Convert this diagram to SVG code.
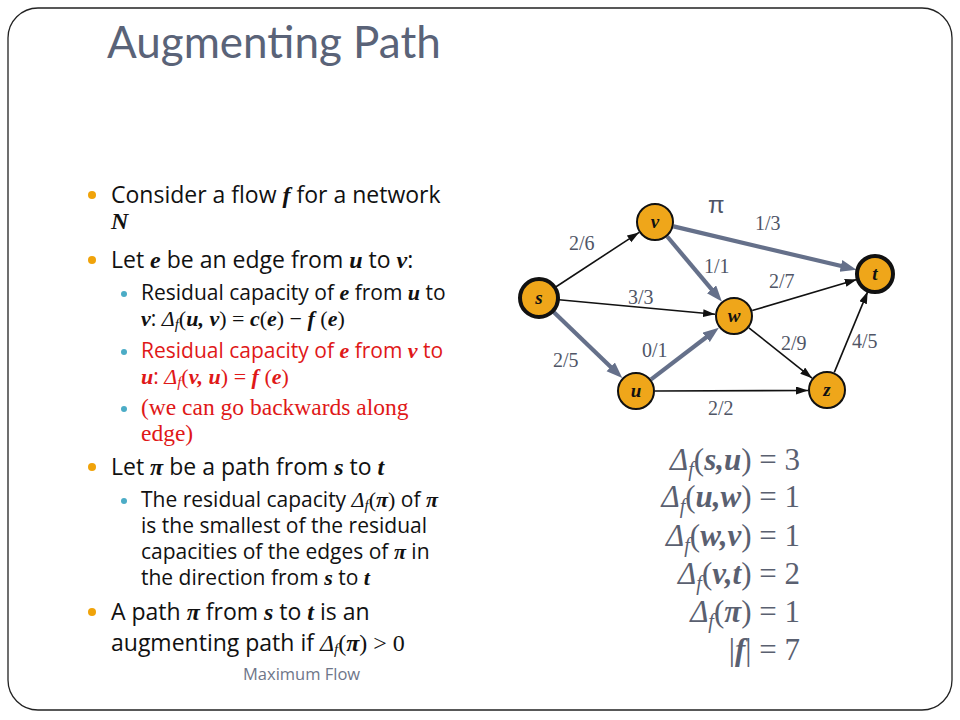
<svg xmlns="http://www.w3.org/2000/svg" width="960" height="720" viewBox="0 0 960 720">
<defs>
<style>
.frame{fill:#fff;stroke:#222;stroke-width:1.3}
.title{font-family:"Lato","Open Sans",sans-serif;font-size:44px;fill:#5A6378}
.b1{font-family:"Open Sans","Lato",sans-serif;font-size:23px;fill:#111}
.b2{font-family:"Open Sans","Lato",sans-serif;font-size:21px;fill:#111}
.b1 .m,.b1 .mi,.b1 .mr{font-size:24px}
.b2 .m,.b2 .mi,.b2 .mr{font-size:22px}
.red{fill:#E01818}
.tr{font-family:"Liberation Serif",serif;font-size:23.5px;fill:#E01818}
.m{font-family:"Liberation Serif",serif;font-weight:bold;font-style:italic}
.mi{font-family:"Liberation Serif",serif;font-style:italic}
.mr{font-family:"Liberation Serif",serif}
.mi .sub{font-size:15px}
.foot{font-family:"Open Sans","Lato",sans-serif;font-size:16.5px;fill:#6E7689}
.dot1{fill:#F0A30A}
.dot2{fill:#4BACC6}
.node circle{fill:#EFA61A;stroke:#111;stroke-width:2}
.node.big circle{stroke-width:4}
.node text{font-family:"Liberation Serif",serif;font-weight:bold;font-style:italic;font-size:19px;fill:#111;text-anchor:middle}
.thin{stroke:#111;stroke-width:1.6;fill:none;marker-end:url(#ab)}
.thick{stroke:#65708A;stroke-width:4.2;fill:none;marker-end:url(#ag)}
.lbl{font-family:"Liberation Serif",serif;font-size:20px;fill:#4F5566}
.pi{font-family:"Liberation Sans",sans-serif;font-size:24px;fill:#4F5566}
.eq{font-family:"Liberation Serif",serif;font-size:31px;fill:#5A6070;text-anchor:end}
</style>
<marker id="ab" markerUnits="userSpaceOnUse" markerWidth="14" markerHeight="10" refX="12" refY="4" orient="auto"><path d="M0,0 L12,4 L0,8 z" fill="#111"/></marker>
<marker id="ag" markerUnits="userSpaceOnUse" markerWidth="18" markerHeight="14" refX="8" refY="6" orient="auto"><path d="M0,0 L16,6 L0,12 z" fill="#65708A"/></marker>
</defs>
<rect x="0" y="0" width="960" height="720" fill="#fff"/>
<rect class="frame" x="8" y="8" width="944" height="702" rx="30" ry="30"/>
<text class="title" x="107" y="58">Augmenting Path</text>

<g id="bullets">
<circle class="dot1" cx="92" cy="195" r="4"/>
<text class="b1" x="111" y="203">Consider a flow <tspan class="m">f</tspan> for a network</text>
<text class="b1" x="111" y="229"><tspan class="m">N</tspan></text>
<circle class="dot1" cx="92" cy="260" r="4"/>
<text class="b1" x="111" y="268">Let <tspan class="m">e</tspan> be an edge from <tspan class="m">u</tspan> to <tspan class="m">v</tspan>:</text>
<circle class="dot2" cx="124" cy="294" r="3"/>
<text class="b2" x="141" y="300">Residual capacity of <tspan class="m">e</tspan> from <tspan class="m">u</tspan> to</text>
<text class="b2" x="141" y="326"><tspan class="m">v</tspan>: <tspan class="mi">Δ<tspan class="sub" dy="3">f</tspan></tspan><tspan class="mr" dy="-3">(</tspan><tspan class="m">u, v</tspan><tspan class="mr">) = </tspan><tspan class="m">c</tspan><tspan class="mr">(</tspan><tspan class="m">e</tspan><tspan class="mr">) − </tspan><tspan class="m">f</tspan><tspan class="mr"> (</tspan><tspan class="m">e</tspan><tspan class="mr">)</tspan></text>
<circle class="dot2" cx="124" cy="352" r="3"/>
<text class="b2 red" x="141" y="358">Residual capacity of <tspan class="m">e</tspan> from <tspan class="m">v</tspan> to</text>
<text class="b2 red" x="141" y="384"><tspan class="m">u</tspan>: <tspan class="mi">Δ<tspan class="sub" dy="3">f</tspan></tspan><tspan class="mr" dy="-3">(</tspan><tspan class="m">v, u</tspan><tspan class="mr">) = </tspan><tspan class="m">f</tspan><tspan class="mr"> (</tspan><tspan class="m">e</tspan><tspan class="mr">)</tspan></text>
<circle class="dot2" cx="124" cy="409" r="3"/>
<text class="tr" x="141" y="415">(we can go backwards along</text>
<text class="tr" x="141" y="441">edge)</text>
<circle class="dot1" cx="92" cy="467" r="4"/>
<text class="b1" x="111" y="475">Let <tspan class="m">π</tspan> be a path from <tspan class="m">s</tspan> to <tspan class="m">t</tspan></text>
<circle class="dot2" cx="124" cy="501" r="3"/>
<text class="b2" x="141" y="507">The residual capacity <tspan class="mi">Δ<tspan class="sub" dy="3">f</tspan></tspan><tspan class="mr" dy="-3">(</tspan><tspan class="m">π</tspan><tspan class="mr">)</tspan> of <tspan class="m">π</tspan></text>
<text class="b2" x="141" y="533">is the smallest of the residual</text>
<text class="b2" x="141" y="559">capacities of the edges of <tspan class="m">π</tspan> in</text>
<text class="b2" x="141" y="585">the direction from <tspan class="m">s</tspan> to <tspan class="m">t</tspan></text>
<circle class="dot1" cx="92" cy="612" r="4"/>
<text class="b1" x="111" y="620">A path <tspan class="m">π</tspan> from <tspan class="m">s</tspan> to <tspan class="m">t</tspan> is an</text>
<text class="b1" x="111" y="651">augmenting path if <tspan class="mi">Δ<tspan class="sub" dy="3">f</tspan></tspan><tspan class="mr" dy="-3">(</tspan><tspan class="m">π</tspan><tspan class="mr">) &gt; 0</tspan></text>
<text class="foot" x="243" y="680">Maximum Flow</text>
</g>

<g id="connectors">
<line class="thin" x1="555.7" y1="287" x2="639.1" y2="232.4"/>
<line class="thin" x1="558.9" y1="299.8" x2="715.1" y2="314.3"/>
<line class="thick" x1="553.4" y1="311.8" x2="616.5" y2="372.4"/>
<line class="thick" x1="673.5" y1="226.4" x2="848.7" y2="267.8"/>
<line class="thick" x1="667.2" y1="236.5" x2="716.7" y2="295.4"/>
<line class="thick" x1="651.1" y1="379.4" x2="712.5" y2="332.5"/>
<line class="thin" x1="655" y1="391" x2="808" y2="390.5"/>
<line class="thin" x1="752.2" y1="310.6" x2="856.8" y2="279.4"/>
<line class="thin" x1="748.9" y1="327.8" x2="812.1" y2="378.2"/>
<line class="thin" x1="834.3" y1="372.4" x2="867.7" y2="291.6"/>
<text class="pi" x="708" y="213">π</text>
<text class="lbl" x="755" y="230">1/3</text>
<text class="lbl" x="569" y="250">2/6</text>
<text class="lbl" x="704" y="273">1/1</text>
<text class="lbl" x="769" y="288">2/7</text>
<text class="lbl" x="628" y="304">3/3</text>
<text class="lbl" x="642" y="357">0/1</text>
<text class="lbl" x="781" y="350">2/9</text>
<text class="lbl" x="852" y="348">4/5</text>
<text class="lbl" x="553" y="367">2/5</text>
<text class="lbl" x="708" y="415">2/2</text>
</g>

<g id="node-s" class="node big"><circle cx="539" cy="298" r="19"/><text x="539" y="304">s</text></g>
<g id="node-v" class="node"><circle cx="655" cy="222" r="18"/><text x="655" y="228">v</text></g>
<g id="node-t" class="node big"><circle cx="875" cy="274" r="18"/><text x="875" y="280">t</text></g>
<g id="node-w" class="node"><circle cx="734" cy="316" r="18"/><text x="734" y="322">w</text></g>
<g id="node-u" class="node"><circle cx="636" cy="391" r="18"/><text x="636" y="397">u</text></g>
<g id="node-z" class="node"><circle cx="827" cy="390" r="18"/><text x="827" y="396">z</text></g>

<g id="equations">
<text class="eq" x="800" y="470"><tspan font-style="italic">Δ<tspan font-size="20" dy="6">f</tspan></tspan><tspan dy="-6">(</tspan><tspan font-weight="bold" font-style="italic">s,u</tspan>) = 3</text>
<text class="eq" x="800" y="507"><tspan font-style="italic">Δ<tspan font-size="20" dy="6">f</tspan></tspan><tspan dy="-6">(</tspan><tspan font-weight="bold" font-style="italic">u,w</tspan>) = 1</text>
<text class="eq" x="800" y="546"><tspan font-style="italic">Δ<tspan font-size="20" dy="6">f</tspan></tspan><tspan dy="-6">(</tspan><tspan font-weight="bold" font-style="italic">w,v</tspan>) = 1</text>
<text class="eq" x="800" y="584"><tspan font-style="italic">Δ<tspan font-size="20" dy="6">f</tspan></tspan><tspan dy="-6">(</tspan><tspan font-weight="bold" font-style="italic">v,t</tspan>) = 2</text>
<text class="eq" x="800" y="622"><tspan font-style="italic">Δ<tspan font-size="20" dy="6">f</tspan></tspan><tspan dy="-6">(</tspan><tspan font-weight="bold" font-style="italic">π</tspan>) = 1</text>
<text class="eq" x="800" y="660">|<tspan font-weight="bold" font-style="italic">f</tspan>| = 7</text>
</g>
</svg>
